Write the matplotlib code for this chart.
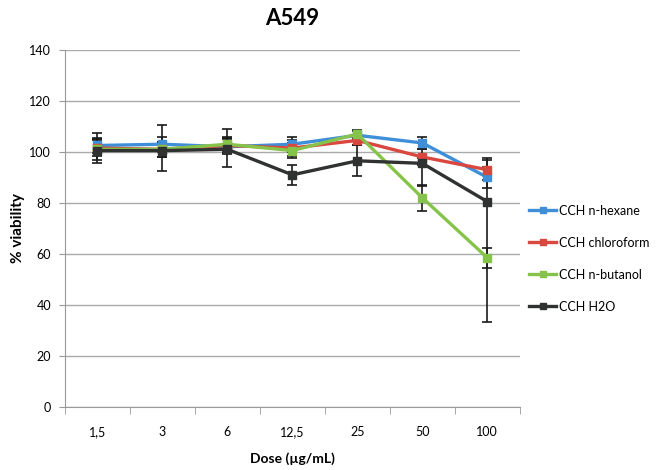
import matplotlib
matplotlib.use("Agg")
import matplotlib.pyplot as plt
from matplotlib.lines import Line2D
import numpy as np

doses = ["1,5", "3", "6", "12,5", "25", "50", "100"]
series_names = ["CCH n-hexane", "CCH chloroform", "CCH n-butanol", "CCH H2O"]
colors = ["#3f8fd8", "#d9473f", "#86c34b", "#2f3230"]

hexane = [102.5, 103, 102, 103, 106.5, 103.5, 90]
chloroform = [101.5, 101, 102.5, 101.5, 104.5, 98, 93]
butanol = [101, 101, 103, 100.5, 107, 82, 58.5]
water = [100.5, 100.5, 101, 91, 96.5, 95.5, 80.5]

hexane_err = [3, 3, 3, 3, 1.5, 2.5, 4]
chloroform_err = [3, 3, 3, 3, 2, 3, 4]
butanol_err = [4, 3, 3, 3, 1.5, 5, 4]
water_err_low = [5, 8, 7, 4, 6, 9, 47]
water_err_high = [7, 10, 8, 4, 6, 2, 17]

plt.rcParams["font.family"] = ["Lato", "DejaVu Sans"]
fig = plt.figure(figsize=(6.69, 4.70), dpi=100)
ax = fig.add_axes([0.097, 0.134, 0.68, 0.76])

x = np.arange(len(doses))
data = [
    (hexane, [hexane_err, hexane_err]),
    (chloroform, [chloroform_err, chloroform_err]),
    (butanol, [butanol_err, butanol_err]),
    (water, [water_err_low, water_err_high]),
]
handles = []
for (vals, err), name, c in zip(data, series_names, colors):
    ax.errorbar(x, vals, yerr=err, color=c, lw=2.4, marker="s", ms=6,
                ecolor="#1a1a1a", elinewidth=1.2, capsize=3.5, capthick=1.2)
    handles.append(Line2D([], [], color=c, lw=2.4, marker="s", ms=5, label=name))

ax.set_xlim(-0.5, len(doses) - 0.5)
ax.set_ylim(0, 140)
ax.set_yticks(range(0, 141, 20))
ax.set_xticks(x)
ax.set_xticklabels(doses, fontsize=9)
ax.set_xticks(np.arange(-0.5, len(doses), 1), minor=True)
ax.tick_params(axis="x", which="major", length=0, pad=14)
ax.tick_params(axis="x", which="minor", length=5, color="#999999")
ax.tick_params(axis="y", length=4, color="#999999", labelsize=9, pad=6)

ax.grid(axis="y", color="#aaaaaa", lw=1)
ax.set_axisbelow(True)
for s in ["top", "right"]:
    ax.spines[s].set_visible(False)
for s in ["left", "bottom"]:
    ax.spines[s].set_color("#999999")

ax.set_title("A549", fontsize=16, fontweight="bold", pad=18)
ax.set_ylabel("% viability", fontsize=11, fontweight="bold", labelpad=3)
ax.set_xlabel("Dose (µg/mL)", fontsize=10, fontweight="bold", labelpad=10)

ax.legend(handles=handles, loc="center left", bbox_to_anchor=(0.995, 0.415),
          frameon=False, labelspacing=1.6, handlelength=2.2, handletextpad=0.2,
          prop={"family": "Lato", "size": 9})

fig.savefig("out.png", dpi=100)
